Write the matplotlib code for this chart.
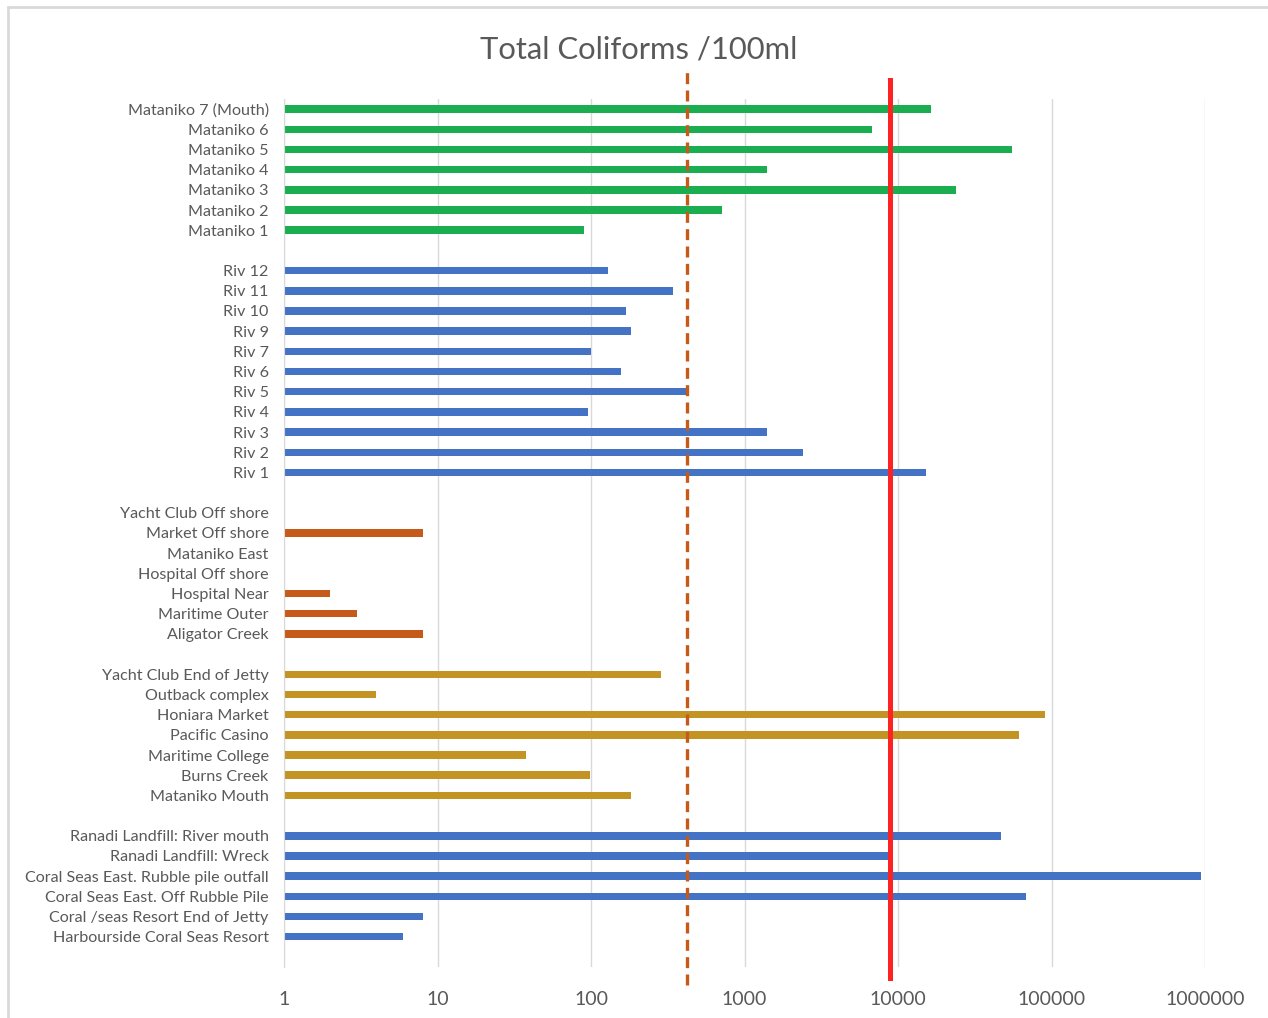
import numpy as np
import matplotlib
matplotlib.use("Agg")
import matplotlib.pyplot as plt
from matplotlib.patches import Rectangle

# Datos (coliformes totales /100ml), de arriba hacia abajo
mataniko_sitios = ["Mataniko 7 (Mouth)", "Mataniko 6", "Mataniko 5", "Mataniko 4",
                   "Mataniko 3", "Mataniko 2", "Mataniko 1"]
mataniko_vals = [16400, 6800, 55000, 1400, 24000, 710, 90]

rios_sitios = ["Riv 12", "Riv 11", "Riv 10", "Riv 9", "Riv 7", "Riv 6", "Riv 5",
               "Riv 4", "Riv 3", "Riv 2", "Riv 1"]
rios_vals = [130, 340, 170, 182, 100, 157, 430, 96, 1400, 2400, 15200]

costa_sitios = ["Yacht Club Off shore", "Market Off shore", "Mataniko East",
                "Hospital Off shore", "Hospital Near", "Maritime Outer", "Aligator Creek"]
costa_vals = [np.nan, 8, np.nan, np.nan, 2, 3, 8]

playa_sitios = ["Yacht Club End of Jetty", "Outback complex", "Honiara Market",
                "Pacific Casino", "Maritime College", "Burns Creek", "Mataniko Mouth"]
playa_vals = [285, 4, 91000, 61000, 38, 98, 182]

ranadi_sitios = ["Ranadi Landfill: River mouth", "Ranadi Landfill: Wreck",
                 "Coral Seas East. Rubble pile outfall", "Coral Seas East. Off Rubble Pile",
                 "Coral /seas Resort End of Jetty", "Harbourside Coral Seas Resort"]
ranadi_vals = [47000, 8800, 940000, 68000, 8, 6]

limite_guia = 420     # línea discontinua
limite_maximo = 8900  # línea roja

grupos = [
    (mataniko_sitios, mataniko_vals, "#1AAE50"),
    (rios_sitios, rios_vals, "#4472C4"),
    (costa_sitios, costa_vals, "#C55A1B"),
    (playa_sitios, playa_vals, "#C39424"),
    (ranadi_sitios, ranadi_vals, "#4472C4"),
]

plt.rcParams["font.family"] = ["Lato", "DejaVu Sans"]
gris = "#595959"

fig = plt.figure(figsize=(12.68, 10.18), dpi=100)
ax = fig.add_axes([284 / 1268, 1 - 967 / 1018, (1205 - 284) / 1268, (967 - 99) / 1018])

etiquetas = []
posiciones = []
fila = 0
for sitios, vals, color in grupos:
    ys = np.arange(fila, fila + len(sitios))
    v = np.array(vals, dtype=float)
    ok = ~np.isnan(v)
    ax.barh(ys[ok], v[ok] - 1, left=1, height=0.37, color=color, zorder=2)
    etiquetas += sitios
    posiciones += list(ys)
    fila += len(sitios) + 1

ax.set_xscale("log")
ax.set_xlim(1, 1e6)
ax.set_ylim(fila - 0.5, -0.5)
ax.set_yticks(posiciones)
ax.set_yticklabels(etiquetas, fontsize=11.6, color=gris)
ax.set_xticks([1, 10, 100, 1000, 10000, 100000, 1000000])
ax.set_xticklabels(["1", "10", "100", "1000", "10000", "100000", "1000000"],
                   fontsize=14, color=gris)
ax.xaxis.set_minor_locator(matplotlib.ticker.NullLocator())
ax.tick_params(axis="y", length=0, pad=11)
ax.tick_params(axis="x", length=0, pad=17)
ax.grid(True, axis="x", color="#D9D9D9", linewidth=1, zorder=0)
for lado in ["top", "right", "bottom"]:
    ax.spines[lado].set_visible(False)
ax.spines["left"].set_color("#D9D9D9")
ax.set_axisbelow(True)

ax.axvline(limite_guia, ymin=-0.021, ymax=1.031, color="#C55A1B", linewidth=2.4,
           linestyle=(0, (3.3, 1.9)), clip_on=False, zorder=4)
ax.axvline(limite_maximo, ymin=-0.013, ymax=1.022, color="#FF2222", linewidth=3.6,
           clip_on=False, zorder=5)

fig.text(0.504, 1 - 50 / 1018, "Total Coliforms /100ml", ha="center", va="center",
         fontsize=22.3, color=gris)

fig.patches.append(Rectangle((8 / 1268, -0.05), 1.0, 1.05 - 7 / 1018, transform=fig.transFigure,
                             fill=False, edgecolor="#D9D9D9", linewidth=2))

fig.savefig("out.png", dpi=100, facecolor="white")
